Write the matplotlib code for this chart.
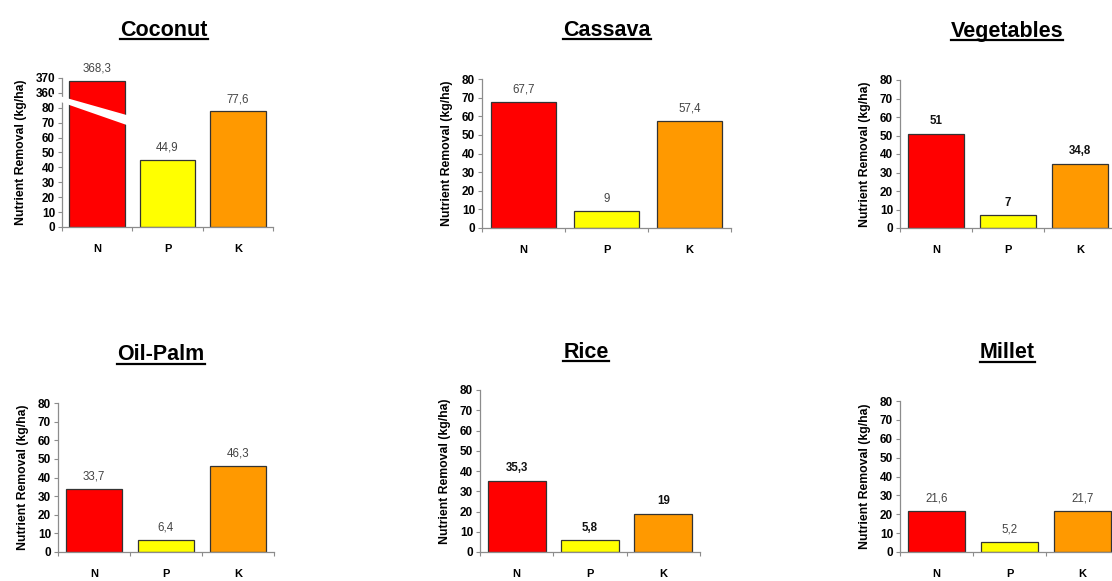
import matplotlib
matplotlib.use("Agg")
import matplotlib.pyplot as plt
from matplotlib.patches import Polygon
from matplotlib.lines import Line2D

plt.rcParams['font.family'] = ['Liberation Sans', 'DejaVu Sans']

# nutrient removal per crop (kg/ha)
nutrients = ["N", "P", "K"]
bar_colors = ["#ff0000", "#ffff00", "#ff9900"]

coconut = [368.3, 44.9, 77.6]
cassava = [67.7, 9, 57.4]
vegetables = [51, 7, 34.8]
oil_palm = [33.7, 6.4, 46.3]
rice = [35.3, 5.8, 19]
millet = [21.6, 5.2, 21.7]

# coconut axis is broken between 80 and 360
break_shift = 270
coconut_ticks = [0, 10, 20, 30, 40, 50, 60, 70, 80, 360, 370]

W, H = 1112, 581

# name, values, bold value labels, axes box in pixels (left, right, bottom, top), title centre
panels = [
    ("Coconut", coconut, False, (62, 273, 227, 78), (164, 30)),
    ("Cassava", cassava, False, (482, 731, 228, 79), (607, 30)),
    ("Vegetables", vegetables, True, (900, 1116, 228, 80), (1007, 31)),
    ("Oil-Palm", oil_palm, False, (58, 274, 552, 403), (161, 355)),
    ("Rice", rice, True, (480, 700, 552, 390), (586, 352)),
    ("Millet", millet, False, (900, 1119, 552, 401), (1007, 353)),
]

fig = plt.figure(figsize=(W / 100, H / 100), dpi=100)
axis_grey = "#8c8c8c"
titles = []


def fmt(v):
    return f"{v:g}".replace(".", ",")


for name, vals, bold_lbl, (l, r, b, t), (tx, ty) in panels:
    ax = fig.add_axes([l / W, 1 - b / H, (r - l) / W, (b - t) / H])
    x = range(len(vals))
    if name == "Coconut":
        shown = [v - break_shift if v > 300 else v for v in vals]
        ax.set_ylim(0, 100)
        ax.set_yticks([v - break_shift if v > 300 else v for v in coconut_ticks])
        ax.set_yticklabels([str(v) for v in coconut_ticks])
    else:
        shown = vals
        ax.set_ylim(0, 80)
        ax.set_yticks(range(0, 81, 10))
    ax.bar(x, shown, width=0.79, color=bar_colors, edgecolor="#333333", linewidth=0.9, zorder=2)
    for xi, v, s in zip(x, vals, shown):
        ax.annotate(fmt(v), (xi, s), xytext=(0, 4.5), textcoords="offset points",
                    ha="center", va="bottom", fontsize=8.3,
                    fontweight="bold" if bold_lbl else "normal",
                    color="#111111" if bold_lbl else "#444444")
    if name == "Coconut":
        # white break band across the N bar and the axis
        band = Polygon([(-0.64, 89.3), (0.43, 75.0), (0.43, 68.3), (-0.64, 85.9)],
                       closed=True, facecolor="white", edgecolor="none",
                       zorder=5, clip_on=False)
        ax.add_patch(band)
    ax.set_xlim(-0.5, 2.5)
    ax.set_xticks(list(x))
    ax.set_xticklabels(nutrients)
    ax.set_xticks([-0.5, 0.5, 1.5, 2.5], minor=True)
    ax.tick_params(axis="x", which="major", length=0, pad=12, labelsize=8)
    ax.tick_params(axis="x", which="minor", length=3, color=axis_grey, width=0.8)
    ax.tick_params(axis="y", length=3, color=axis_grey, width=0.8, labelsize=8.5, pad=2)
    for lbl in ax.get_xticklabels() + ax.get_yticklabels():
        lbl.set_fontweight("bold")
    for side in ["top", "right"]:
        ax.spines[side].set_visible(False)
    for side in ["left", "bottom"]:
        ax.spines[side].set_color(axis_grey)
        ax.spines[side].set_linewidth(0.9)
    ax.set_ylabel("Nutrient Removal (kg/ha)", fontsize=8.8, fontweight="bold", labelpad=6)
    ax.set_facecolor("none")
    titles.append(fig.text(tx / W, 1 - ty / H, name, ha="center", va="center",
                           fontsize=15.5, fontweight="bold"))

# underline the titles
fig.canvas.draw()
renderer = fig.canvas.get_renderer()
for txt in titles:
    bb = txt.get_window_extent(renderer)
    y = (bb.y0 + 1.5) / H
    fig.add_artist(Line2D([bb.x0 / W, bb.x1 / W], [y, y], color="black",
                          linewidth=1.6, transform=fig.transFigure))

fig.savefig("out.png", dpi=100)
